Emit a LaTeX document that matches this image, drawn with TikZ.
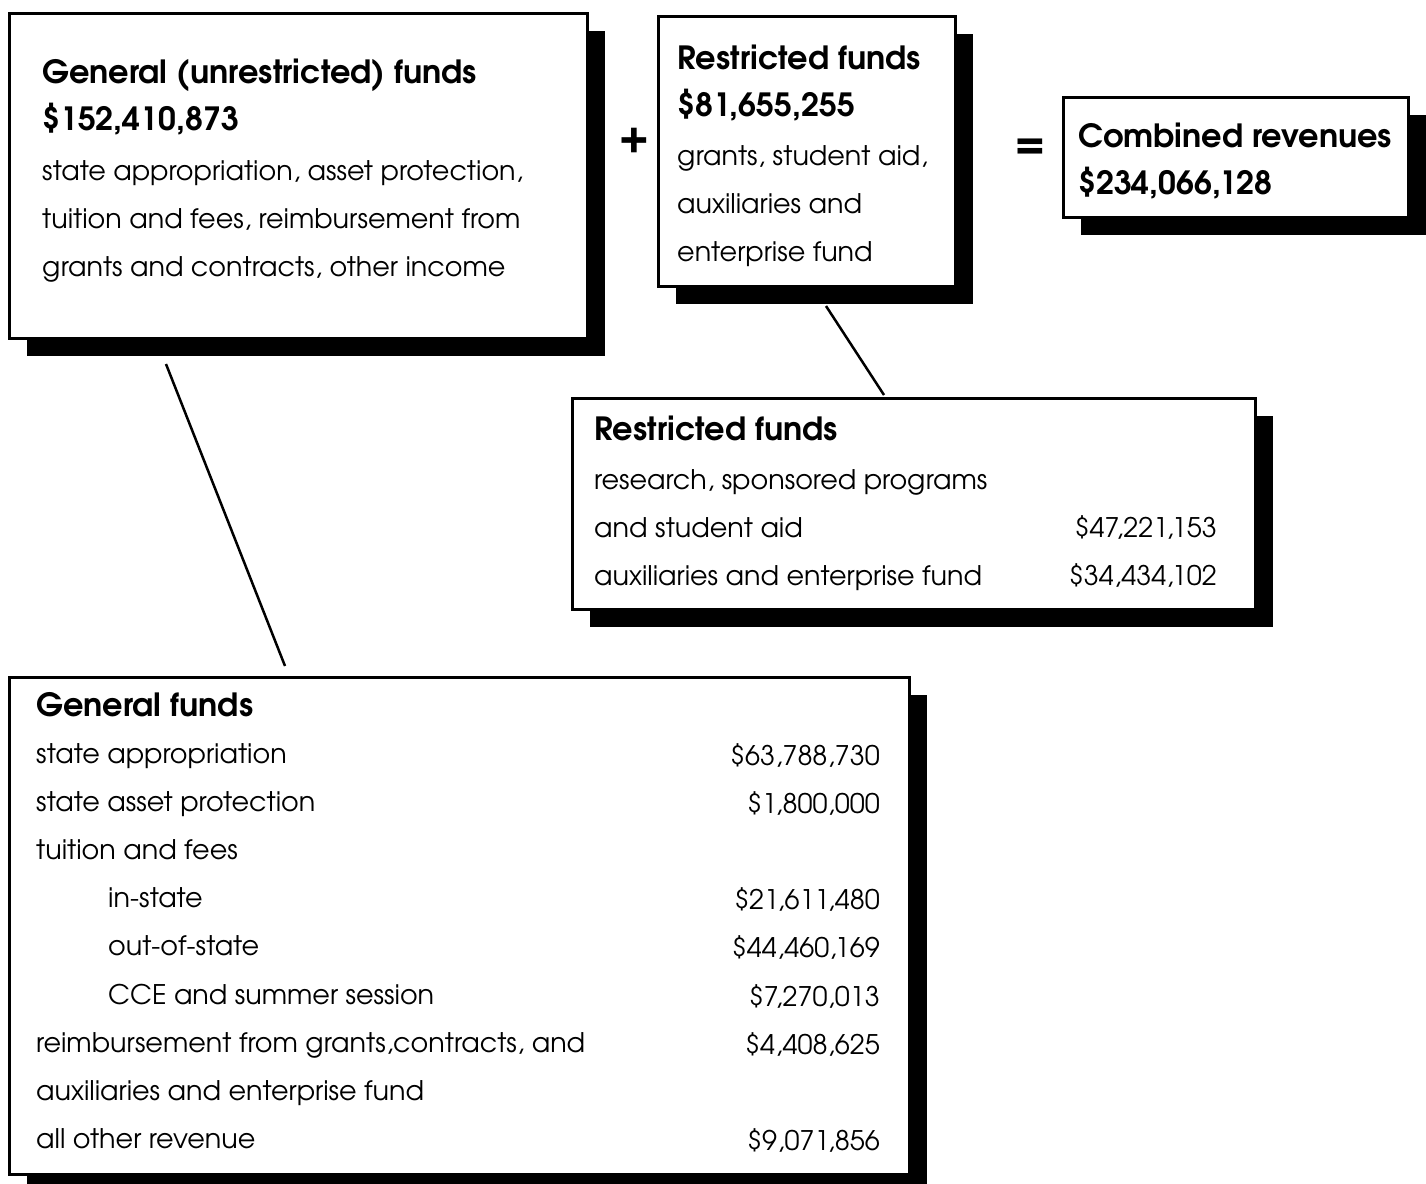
\documentclass[tikz,border=0pt]{standalone}
\usepackage{fontspec}
\setmainfont{TeX Gyre Adventor}
\usetikzlibrary{shadows}
\tikzset{
  x=1pt, y=-1pt,
  panel/.style={draw=black, line width=2.5pt, fill=white, inner sep=0pt, anchor=north west,
    drop shadow={shadow xshift=18pt, shadow yshift=-18pt, opacity=1, fill=black}},
  ttl/.style={anchor=base west, inner sep=0pt, font=\fontsize{32}{36}\selectfont\bfseries},
  bdy/.style={anchor=base west, inner sep=0pt, font=\fontsize{27}{32}\selectfont},
  amt/.style={anchor=base east, inner sep=0pt, font=\fontsize{27}{32}\selectfont},
  op/.style={inner sep=0pt, font=\fontsize{44}{48}\selectfont\bfseries},
  link/.style={line width=2.5pt}
}
\begin{document}
\begin{tikzpicture}
\useasboundingbox (0,0) rectangle (1426,1183);
% boxes
\node[panel, minimum width=578pt, minimum height=325pt] (b1) at (8,12) {};
\node[panel, minimum width=297pt, minimum height=270pt] (b2) at (657,15) {};
\node[panel, minimum width=345pt, minimum height=120pt] (b3) at (1062,96) {};
\node[panel, minimum width=683pt, minimum height=211pt] (b4) at (571,397) {};
\node[panel, minimum width=900pt, minimum height=497pt] (b5) at (8,676) {};
% operators
\node[op] (plus) at (634,140) {+};
\node[op] (eq) at (1030,148) {=};
% box 1
\node[ttl] (t1a) at (42,83) {General (unrestricted) funds};
\node[ttl] (t1b) at (42,130) {\$152,410,873};
\node[bdy] (t1c) at (42,180) {state appropriation, asset protection,};
\node[bdy] (t1d) at (42,228) {tuition and fees, reimbursement from};
\node[bdy] (t1e) at (42,276) {grants and contracts, other income};
% box 2
\node[ttl] (t2a) at (677,69) {Restricted funds};
\node[ttl] (t2b) at (677,116) {\$81,655,255};
\node[bdy] (t2c) at (677,165) {grants, student aid,};
\node[bdy] (t2d) at (677,213) {auxiliaries and};
\node[bdy] (t2e) at (677,261) {enterprise fund};
% box 3
\node[ttl] (t3a) at (1078,147) {Combined revenues};
\node[ttl] (t3b) at (1078,194) {\$234,066,128};
% box 4
\node[ttl] (t4a) at (594,440) {Restricted funds};
\node[bdy] (t4b) at (594,489) {research, sponsored programs};
\node[bdy] (t4c) at (594,537) {and student aid};
\node[amt] (t4d) at (1217,537) {\$47,221,153};
\node[bdy] (t4e) at (594,585) {auxiliaries and enterprise fund};
\node[amt] (t4f) at (1217,585) {\$34,434,102};
% box 5
\node[ttl] (t5a) at (36,716) {General funds};
\node[bdy] (r1) at (36,763) {state appropriation};
\node[amt] (v1) at (880,765) {\$63,788,730};
\node[bdy] (r2) at (36,811) {state asset protection};
\node[amt] (v2) at (880,813) {\$1,800,000};
\node[bdy] (r3) at (36,859) {tuition and fees};
\node[bdy] (r4) at (108,907) {in-state};
\node[amt] (v4) at (880,909) {\$21,611,480};
\node[bdy] (r5) at (108,955) {out-of-state};
\node[amt] (v5) at (880,957) {\$44,460,169};
\node[bdy] (r6) at (108,1004) {CCE and summer session};
\node[amt] (v6) at (880,1006) {\$7,270,013};
\node[bdy] (r7) at (36,1052) {reimbursement from grants,contracts, and};
\node[amt] (v7) at (880,1054) {\$4,408,625};
\node[bdy] (r8) at (36,1100) {auxiliaries and enterprise fund};
\node[bdy] (r9) at (36,1148) {all other revenue};
\node[amt] (v9) at (880,1150) {\$9,071,856};
% connectors
\coordinate (c1a) at (166,364);
\coordinate (c1b) at (285,666);
\coordinate (c2a) at (826,306);
\coordinate (c2b) at (884,395);
\draw[link] (c1a) -- (c1b);
\draw[link] (c2a) -- (c2b);
\end{tikzpicture}
\end{document}
